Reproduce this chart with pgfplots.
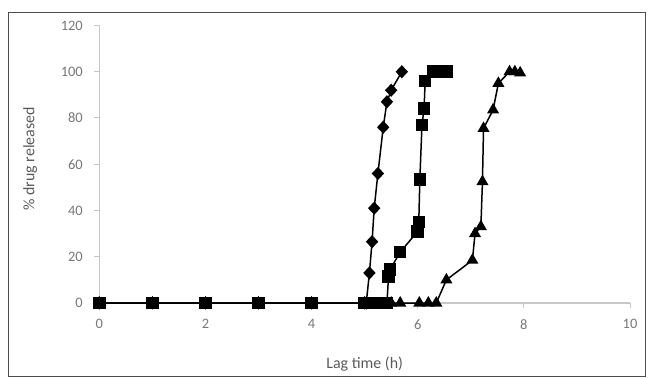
\documentclass[border=0pt]{standalone}
\usepackage{fontspec}
\setmainfont{Carlito}
\usepackage{pgfplots}
\pgfplotsset{compat=1.18}
\definecolor{ticktxt}{RGB}{120,120,120}
\definecolor{labtxt}{RGB}{90,90,90}
\definecolor{axln}{RGB}{200,200,200}
\begin{document}
\begin{tikzpicture}
\useasboundingbox (-99.3bp,-76bp) rectangle (553.7bp,303bp);
\draw[black!70, line width=0.9bp] (-91.3bp,-73bp) rectangle (545.7bp,291bp);
\begin{axis}[
  at={(0,0)}, anchor=south west,
  scale only axis, width=530.7bp, height=277.5bp,
  xmin=0, xmax=10, ymin=0, ymax=120,
  axis x line=bottom, axis y line=left,
  axis line style={-, axln, line width=1.2bp},
  xtick={0,2,...,10}, ytick={0,20,...,120},
  tick align=outside, major tick length=5bp,
  tick style={axln, line width=1bp},
  /pgf/number format/assume math mode=true,
  ticklabel style={font=\fontsize{14.5}{16}\selectfont, text=ticktxt},
  xticklabel style={yshift=-8bp},
  yticklabel style={xshift=-8bp},
  xlabel={Lag time (h)}, ylabel={\% drug released},
  label style={font=\fontsize{16}{18}\selectfont, text=labtxt},
  xlabel style={at={(axis description cs:0.5,0)}, anchor=center, yshift=-61bp},
  ylabel style={at={(axis description cs:-0.130,0.52)}, anchor=center},
  every axis plot/.append style={black, line width=1.5bp},
  clip=false,
]
\addplot[mark=diamond*, mark size=5.5bp, mark options={xscale=1.25}] coordinates {
(0,0)(1,0)(2,0)(3,0)(4,0)(5,0)(5.03,0)(5.09,13)(5.14,26.5)(5.18,41)(5.25,56)(5.35,76)(5.42,87)(5.5,92)(5.7,100)
};
\addplot[mark=triangle*, mark size=5.5bp] coordinates {
(0,0)(1,0)(2,0)(3,0)(4,0)(5,0)(5.5,0)(5.67,0)(6.03,0)(6.2,0)(6.35,0)(6.54,10)(7.03,18.5)(7.08,30)(7.19,33)(7.22,52.5)(7.24,75.5)(7.42,83.5)(7.52,95)(7.73,100)(7.83,100)(7.93,99.5)
};
\addplot[mark=square*, mark size=5.5bp] coordinates {
(0,0)(1,0)(2,0)(3,0)(4,0)(5,0)(5.1,0)(5.25,0)(5.42,0)(5.45,11.5)(5.48,14.5)(5.67,22)(6.0,31)(6.02,35)(6.04,53.5)(6.08,77)(6.12,84)(6.14,96)(6.3,100)(6.42,100)(6.55,100)
};
\end{axis}
\end{tikzpicture}
\end{document}
